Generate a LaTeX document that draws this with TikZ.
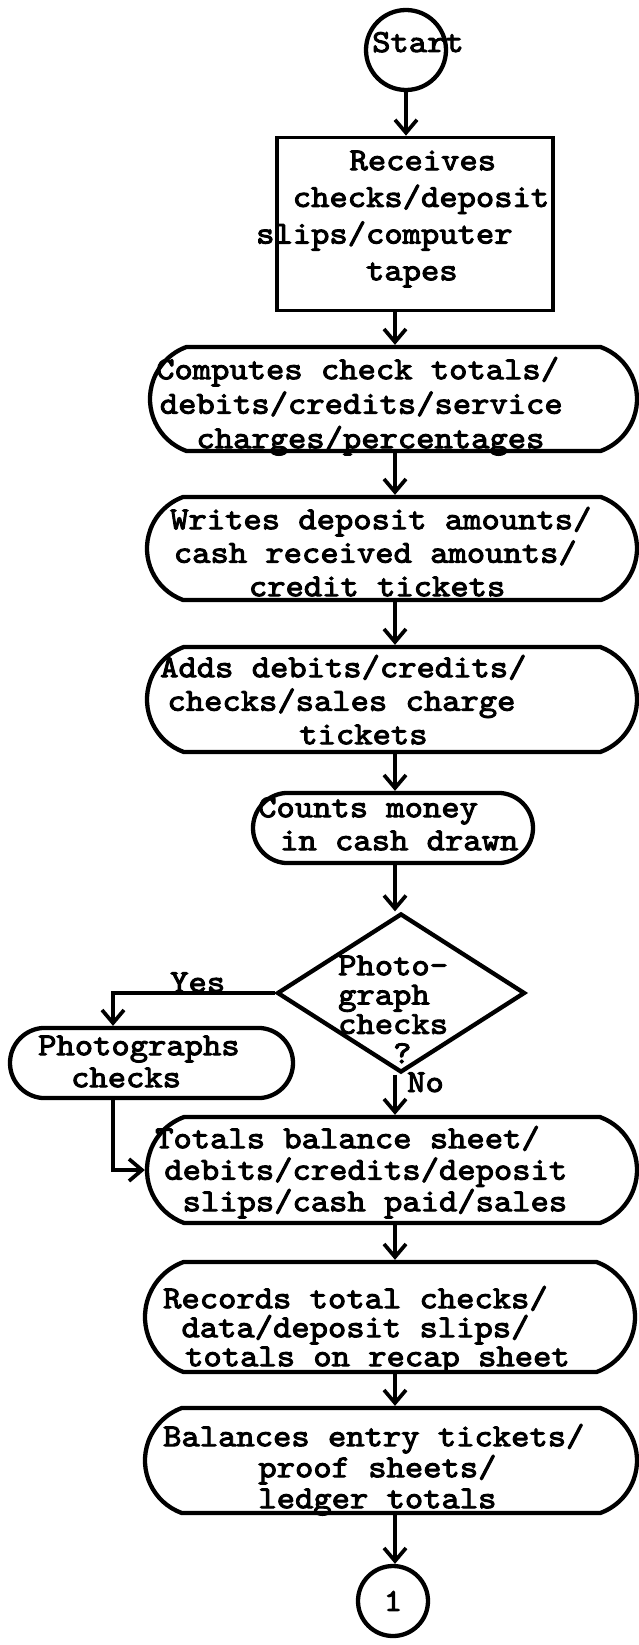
\documentclass[tikz,border=0pt]{standalone}
\usepackage{fontspec}
% heavy typewriter face
\newfontfamily\tw{lmmono10-regular.otf}[FakeBold=3, FakeStretch=1.09]
\usetikzlibrary{shapes.misc,shapes.geometric,arrows.meta}
% indent by a number of typewriter character cells
\newcommand\indn[1]{\hspace*{#1\fontcharwd\font`M}}
% fixes the top of a text block 27pt above its first baseline
\newcommand\tstrut{\rule{0pt}{27pt}}
\begin{document}
\begin{tikzpicture}[x=1pt,y=-1pt,
  outline/.style={draw, line width=4.3pt, inner sep=0pt},
  proc/.style={outline, rounded rectangle, rounded rectangle arc length=140},
  smallproc/.style={outline, rounded rectangle, rounded rectangle arc length=170},
  txt/.style={anchor=north west, inner sep=0pt, align=left,
    font=\tw\fontsize{32}{#1}\selectfont},
  lbl/.style={anchor=base west, inner sep=0pt, font=\tw\fontsize{32}{33}\selectfont},
  arr/.style={line width=3.7pt, -{Straight Barb[length=13pt,width=22pt]}}
]
\useasboundingbox (0,0) rectangle (639,1645);
\fill[white] (0,0) rectangle (639,1645);

% ---- shapes ----
\node[outline, circle, minimum size=80pt] (start) at (406,50) {};
\node[outline, rectangle, line width=3.7pt, minimum width=276pt, minimum height=173pt] (recv) at (415,224) {};
\node[proc, minimum width=487pt, minimum height=104pt] (comp) at (393.5,399) {};
\node[proc, minimum width=490pt, minimum height=103pt] (write) at (392,548.5) {};
\node[proc, minimum width=490pt, minimum height=105pt] (adds) at (392,699.5) {};
\node[smallproc, minimum width=280pt, minimum height=70pt] (count) at (393,828) {};
\node[outline, diamond, minimum width=248pt, minimum height=159pt] (dec) at (401,993) {};
\node[smallproc, minimum width=283pt, minimum height=70pt] (photo) at (151.5,1063) {};
\node[proc, minimum width=490pt, minimum height=106pt] (tot) at (392,1170) {};
\node[proc, minimum width=490pt, minimum height=110pt] (rec) at (390,1317) {};
\node[proc, minimum width=492pt, minimum height=105pt] (bal) at (391,1460.5) {};
\node[outline, circle, minimum size=70pt, font=\tw\fontsize{32}{33}\selectfont] (conn) at (393,1601) {1};

% ---- texts ----
\node[lbl] (starttxt) at (372,52) {Start};
\node[txt=36.7] (recvtxt) at (256,143) {\tstrut\indn{5.1}Receives\\\indn{2}checks/deposit\\slips/computer\\\indn{6}tapes};
\node[txt=34.5] (comptxt) at (156,352) {\tstrut Computes check totals/\\\indn{0.2}debits/credits/service\\\indn{2.2}charges/percentages};
\node[txt=33.5] (writetxt) at (170,502) {\tstrut Writes deposit amounts/\\\indn{0.2}cash received amounts/\\\indn{4.3}credit tickets};
\node[txt=33.5] (addstxt) at (160,650) {\tstrut Adds debits/credits/\\\indn{0.4}checks/sales charge\\\indn{7.6}tickets};
\node[txt=33] (counttxt) at (258,790) {\tstrut Counts money\\\indn{1.2}in cash drawn};
\node[txt=29.3] (dectxt) at (338,948) {\tstrut Photo-\\graph\\checks\\\indn{3}?};
\node[txt=32] (phototxt) at (38,1028) {\tstrut Photographs\\\indn{1.8}checks};
\node[txt=31.5] (tottxt) at (155,1121) {\tstrut Totals balance sheet/\\\indn{0.5}debits/credits/deposit\\\indn{1.5}slips/cash paid/sales};
\node[txt=29] (rectxt) at (163,1281) {\tstrut Records total checks/\\\indn{1}data/deposit slips/\\\indn{1.2}totals on recap sheet};
\node[txt=31] (baltxt) at (163,1419) {\tstrut Balances entry tickets/\\\indn{5.2}proof sheets/\\\indn{5.2}ledger totals};
\node[lbl] (yes) at (170,992) {Yes};
\node[lbl] (no) at (407,1092) {No};

% ---- connectors ----
\coordinate (spine) at (395,0);
\coordinate (yesx) at (113,0);
\draw[arr] (start.south) -- (start.south |- recv.north);
\draw[arr] (recv.south -| spine) -- (comp.north -| spine);
\draw[arr] (comp.south -| spine) -- (write.north -| spine);
\draw[arr] (write.south -| spine) -- (adds.north -| spine);
\draw[arr] (adds.south -| spine) -- (count.north -| spine);
\draw[arr] (count.south -| spine) -- (dec.north -| spine);
\draw[arr] (dec.south -| spine) -- (tot.north -| spine);
\draw[arr] (dec.west) -- (dec.west -| yesx) -- (photo.north -| yesx);
\draw[arr] (photo.south -| yesx) -- (tot.west -| yesx) -- (tot.west);
\draw[arr] (tot.south -| spine) -- (rec.north -| spine);
\draw[arr] (rec.south -| spine) -- (bal.north -| spine);
\draw[arr] (bal.south -| spine) -- (conn.north -| spine);
\end{tikzpicture}
\end{document}
